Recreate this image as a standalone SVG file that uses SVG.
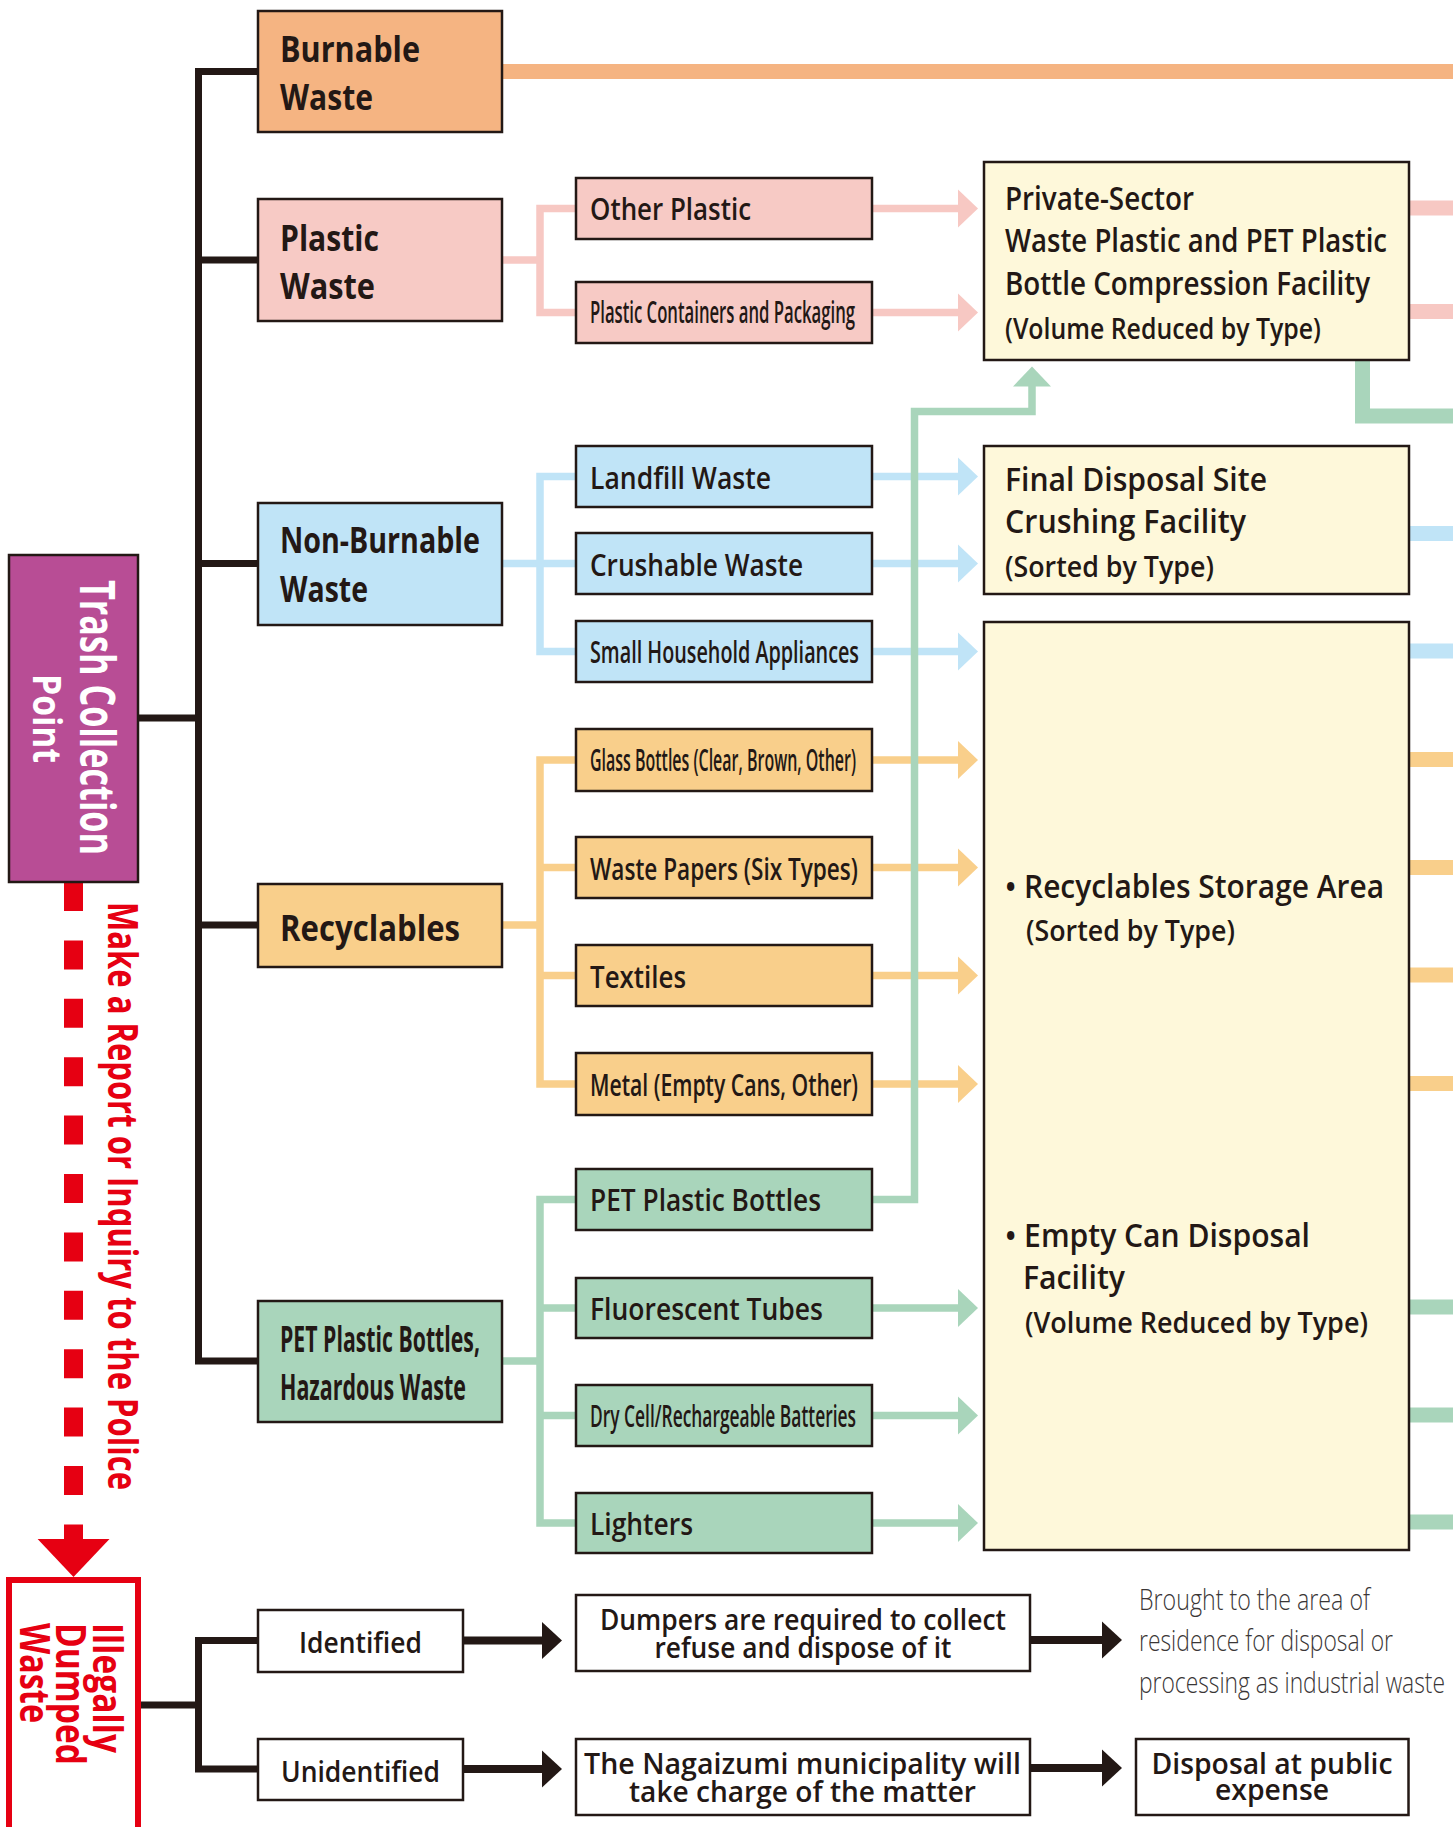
<svg xmlns="http://www.w3.org/2000/svg" xmlns:xlink="http://www.w3.org/1999/xlink" width="1453" height="1827" viewBox="0 0 1453 1827">
<style>
text{font-family:"Open Sans","Noto Sans","Liberation Sans",sans-serif;fill:#231815}
.box{stroke:#231815;stroke-width:2.5}
.burn{fill:#F5B482}.pla{fill:#F7CAC5}.blu{fill:#C0E4F7}.ora{fill:#F9CF8B}.grn{fill:#A9D5BB}.cre{fill:#FEF8DA}.wht{fill:#fff}
.cat{font-size:36px;font-weight:700}
.sub{font-size:30px;font-weight:600}
.fac{font-size:32px;font-weight:600}
.facs{font-size:28px;font-weight:600}
.bot{font-size:29px;font-weight:600}
.thin{font-size:30px;font-weight:300;fill:#3a3636}
.lp{fill:none;stroke:#F7C8C3}.lb{fill:none;stroke:#C0E4F7}.lo{fill:none;stroke:#F9CF8B}.lg{fill:none;stroke:#A9D5BB}.lbu{fill:none;stroke:#F5B482}
.th{stroke-width:7.5}.tk{stroke-width:15}
.blk{fill:none;stroke:#231815;stroke-width:7}
.red{fill:#E60012}
</style>
<defs>
<path id="ah" d="M0,-19 L20,0 L0,19 Z"/>
<path id="ahb" d="M0,-18.5 L20,0 L0,18.5 Z"/>
</defs>

<g id="connectors">
  <path class="blk" d="M258 71.5 H198.5 V1361 H258"/>
  <path class="blk" d="M198.5 260 H258 M198.5 563.5 H258 M198.5 925 H258 M138 718 H198.5"/>
  <path class="lbu tk" d="M502 71.5 H1453"/>
  <path class="lp th" d="M576 208.5 H540 V312.5 H576 M502 260 H540"/>
  <path class="lp th" d="M872 208.5 H960 M872 312.5 H960"/>
  <g fill="#F7C8C3"><use xlink:href="#ah" x="958" y="208.5"/><use xlink:href="#ah" x="958" y="312.5"/></g>
  <path class="lp tk" d="M1409 208 H1453 M1409 311.5 H1453"/>
  <path class="lb th" d="M576 476.5 H540 V651.5 H576 M502 563.5 H576"/>
  <path class="lb th" d="M872 476.5 H960 M872 563.5 H960 M872 651.5 H960"/>
  <g fill="#C0E4F7"><use xlink:href="#ah" x="958" y="476.5"/><use xlink:href="#ah" x="958" y="563.5"/><use xlink:href="#ah" x="958" y="651.5"/></g>
  <path class="lb tk" d="M1409 533.5 H1453 M1409 651 H1453"/>
  <path class="lo th" d="M576 760 H540 V1084 H576 M502 925 H540 M540 867.5 H576 M540 975.5 H576"/>
  <path class="lo th" d="M872 760 H960 M872 867.5 H960 M872 975.5 H960 M872 1084 H960"/>
  <g fill="#F9CF8B"><use xlink:href="#ah" x="958" y="760"/><use xlink:href="#ah" x="958" y="867.5"/><use xlink:href="#ah" x="958" y="975.5"/><use xlink:href="#ah" x="958" y="1084"/></g>
  <path class="lo tk" d="M1409 759.5 H1453 M1409 867.5 H1453 M1409 975 H1453 M1409 1083.5 H1453"/>
  <path class="lg th" d="M576 1199.5 H540 V1523 H576 M502 1361 H540 M540 1308 H576 M540 1415.5 H576"/>
  <path class="lg th" d="M872 1308 H960 M872 1415.5 H960 M872 1523 H960"/>
  <g fill="#A9D5BB"><use xlink:href="#ah" x="958" y="1308"/><use xlink:href="#ah" x="958" y="1415.5"/><use xlink:href="#ah" x="958" y="1523"/></g>
  <path class="lg th" d="M872 1199.5 H914.5 V411.5 H1032 V384"/>
  <path fill="#A9D5BB" d="M1013 386.5 L1032 366.5 L1051 386.5 Z"/>
  <path class="lg tk" d="M1362.5 360 V416 H1453 M1409 1307 H1453 M1409 1415 H1453 M1409 1522 H1453"/>
  <path d="M73.5 882 V1539" stroke="#E60012" stroke-width="19" stroke-dasharray="29 29.4" fill="none"/>
  <path class="red" d="M37.6 1539 L109.5 1539 L73.5 1577 Z"/>
  <path class="blk" d="M258 1640.5 H198.5 V1769 H258 M141 1705 H198.5"/>
  <path fill="none" stroke="#231815" stroke-width="8" d="M463 1640.5 H544 M463 1769 H544 M1030 1640 H1104 M1030 1768 H1104"/>
  <g fill="#231815"><use xlink:href="#ahb" x="542" y="1640.5"/><use xlink:href="#ahb" x="542" y="1769"/><use xlink:href="#ahb" x="1102" y="1640"/><use xlink:href="#ahb" x="1102" y="1768"/></g>
</g>

<g id="trash-collection-point">
  <rect x="9" y="555" width="129" height="327" fill="#B84D95" class="box"/>
  <text transform="translate(80,717.5) rotate(90)" text-anchor="middle" font-size="48" font-weight="700" style="fill:#fff" textLength="275" lengthAdjust="spacingAndGlyphs">Trash Collection</text>
  <text transform="translate(33,718.5) rotate(90)" text-anchor="middle" font-size="40" font-weight="700" style="fill:#fff" textLength="89" lengthAdjust="spacingAndGlyphs">Point</text>
</g>

<g id="report-label">
  <text transform="translate(108,902) rotate(90)" font-size="42" font-weight="700" style="fill:#E60012" textLength="588" lengthAdjust="spacingAndGlyphs">Make a Report or Inquiry to the Police</text>
</g>

<g id="burnable-waste">
  <rect x="258" y="11" width="244" height="121" class="box burn"/>
  <text class="cat" x="280" y="62" textLength="140" lengthAdjust="spacingAndGlyphs">Burnable</text>
  <text class="cat" x="280" y="110" textLength="93" lengthAdjust="spacingAndGlyphs">Waste</text>
</g>
<g id="plastic-waste">
  <rect x="258" y="199" width="244" height="122" class="box pla"/>
  <text class="cat" x="280" y="251" textLength="99" lengthAdjust="spacingAndGlyphs">Plastic</text>
  <text class="cat" x="280" y="299" textLength="95" lengthAdjust="spacingAndGlyphs">Waste</text>
</g>
<g id="non-burnable-waste">
  <rect x="258" y="503" width="244" height="122" class="box blu"/>
  <text class="cat" x="280" y="553" textLength="200" lengthAdjust="spacingAndGlyphs">Non-Burnable</text>
  <text class="cat" x="280" y="602" textLength="88" lengthAdjust="spacingAndGlyphs">Waste</text>
</g>
<g id="recyclables">
  <rect x="258" y="884" width="244" height="83" class="box ora"/>
  <text class="cat" x="280" y="941" textLength="180" lengthAdjust="spacingAndGlyphs">Recyclables</text>
</g>
<g id="pet-hazardous">
  <rect x="258" y="1301" width="244" height="121" class="box grn"/>
  <text class="cat" x="280" y="1352" textLength="200" lengthAdjust="spacingAndGlyphs">PET Plastic Bottles,</text>
  <text class="cat" x="280" y="1400" textLength="186" lengthAdjust="spacingAndGlyphs">Hazardous Waste</text>
</g>

<g id="other-plastic"><rect x="576" y="178" width="296" height="61" class="box pla"/><text class="sub" x="590" y="220" textLength="161" lengthAdjust="spacingAndGlyphs">Other Plastic</text></g>
<g id="plastic-containers"><rect x="576" y="282" width="296" height="61" class="box pla"/><text class="sub" x="590" y="323" font-size="28" textLength="265" lengthAdjust="spacingAndGlyphs">Plastic Containers and Packaging</text></g>
<g id="landfill-waste"><rect x="576" y="446" width="296" height="61" class="box blu"/><text class="sub" x="590" y="489" textLength="181" lengthAdjust="spacingAndGlyphs">Landfill Waste</text></g>
<g id="crushable-waste"><rect x="576" y="533" width="296" height="61" class="box blu"/><text class="sub" x="590" y="576" textLength="213" lengthAdjust="spacingAndGlyphs">Crushable Waste</text></g>
<g id="small-appliances"><rect x="576" y="621" width="296" height="61" class="box blu"/><text class="sub" x="590" y="663" textLength="269" lengthAdjust="spacingAndGlyphs">Small Household Appliances</text></g>
<g id="glass-bottles"><rect x="576" y="729" width="296" height="62" class="box ora"/><text class="sub" x="590" y="771" font-size="29" textLength="266" lengthAdjust="spacingAndGlyphs">Glass Bottles (Clear, Brown, Other)</text></g>
<g id="waste-papers"><rect x="576" y="837" width="296" height="61" class="box ora"/><text class="sub" x="590" y="880" textLength="268" lengthAdjust="spacingAndGlyphs">Waste Papers (Six Types)</text></g>
<g id="textiles"><rect x="576" y="945" width="296" height="61" class="box ora"/><text class="sub" x="590" y="988" textLength="96" lengthAdjust="spacingAndGlyphs">Textiles</text></g>
<g id="metal"><rect x="576" y="1053" width="296" height="62" class="box ora"/><text class="sub" x="590" y="1096" textLength="268" lengthAdjust="spacingAndGlyphs">Metal (Empty Cans, Other)</text></g>
<g id="pet-bottles"><rect x="576" y="1169" width="296" height="61" class="box grn"/><text class="sub" x="590" y="1211" textLength="231" lengthAdjust="spacingAndGlyphs">PET Plastic Bottles</text></g>
<g id="fluorescent-tubes"><rect x="576" y="1278" width="296" height="60" class="box grn"/><text class="sub" x="590" y="1320" textLength="233" lengthAdjust="spacingAndGlyphs">Fluorescent Tubes</text></g>
<g id="batteries"><rect x="576" y="1385" width="296" height="61" class="box grn"/><text class="sub" x="590" y="1427" font-size="29" textLength="266" lengthAdjust="spacingAndGlyphs">Dry Cell/Rechargeable Batteries</text></g>
<g id="lighters"><rect x="576" y="1493" width="296" height="60" class="box grn"/><text class="sub" x="590" y="1535" textLength="103" lengthAdjust="spacingAndGlyphs">Lighters</text></g>

<g id="private-sector-facility">
  <rect x="984" y="162" width="425" height="198" class="box cre"/>
  <text class="fac" x="1005" y="210" textLength="189" lengthAdjust="spacingAndGlyphs">Private-Sector</text>
  <text class="fac" x="1005" y="252" textLength="382" lengthAdjust="spacingAndGlyphs">Waste Plastic and PET Plastic</text>
  <text class="fac" x="1005" y="295" textLength="365" lengthAdjust="spacingAndGlyphs">Bottle Compression Facility</text>
  <text class="facs" x="1005" y="339" textLength="316" lengthAdjust="spacingAndGlyphs">(Volume Reduced by Type)</text>
</g>
<g id="final-disposal-site">
  <rect x="984" y="446" width="425" height="148" class="box cre"/>
  <text class="fac" x="1005" y="491" textLength="262" lengthAdjust="spacingAndGlyphs">Final Disposal Site</text>
  <text class="fac" x="1005" y="533" textLength="241" lengthAdjust="spacingAndGlyphs">Crushing Facility</text>
  <text class="facs" x="1005" y="577" textLength="209" lengthAdjust="spacingAndGlyphs">(Sorted by Type)</text>
</g>
<g id="recyclables-storage">
  <rect x="984" y="622" width="425" height="928" class="box cre"/>
  <text class="fac" x="1005" y="898" textLength="379" lengthAdjust="spacingAndGlyphs">• Recyclables Storage Area</text>
  <text class="facs" x="1026" y="941" textLength="209" lengthAdjust="spacingAndGlyphs">(Sorted by Type)</text>
  <text class="fac" x="1005" y="1247" textLength="305" lengthAdjust="spacingAndGlyphs">• Empty Can Disposal</text>
  <text class="fac" x="1023" y="1289" textLength="102" lengthAdjust="spacingAndGlyphs">Facility</text>
  <text class="facs" x="1025" y="1333" textLength="343" lengthAdjust="spacingAndGlyphs">(Volume Reduced by Type)</text>
</g>

<g id="illegally-dumped-waste">
  <rect x="9" y="1580" width="129" height="270" fill="#fff" stroke="#E60012" stroke-width="6"/>
  <text transform="translate(93,1623) rotate(90)" font-size="42" font-weight="700" style="fill:#E60012" textLength="130" lengthAdjust="spacingAndGlyphs">Illegally</text>
  <text transform="translate(56,1623) rotate(90)" font-size="42" font-weight="700" style="fill:#E60012" textLength="142" lengthAdjust="spacingAndGlyphs">Dumped</text>
  <text transform="translate(20,1623) rotate(90)" font-size="42" font-weight="700" style="fill:#E60012" textLength="100" lengthAdjust="spacingAndGlyphs">Waste</text>
</g>
<g id="identified"><rect x="258" y="1610" width="205" height="62" class="box wht" stroke-width="2"/><text class="bot" x="360.5" y="1653" text-anchor="middle" font-size="30" textLength="123" lengthAdjust="spacingAndGlyphs">Identified</text></g>
<g id="unidentified"><rect x="258" y="1739" width="205" height="61" class="box wht" stroke-width="2"/><text class="bot" x="360.5" y="1782" text-anchor="middle" font-size="30" textLength="159" lengthAdjust="spacingAndGlyphs">Unidentified</text></g>
<g id="dumpers-collect">
  <rect x="576" y="1595" width="454" height="76" class="box wht"/>
  <text class="bot" x="803" y="1630" text-anchor="middle" font-size="28" textLength="406" lengthAdjust="spacingAndGlyphs">Dumpers are required to collect</text>
  <text class="bot" x="803" y="1658" text-anchor="middle" font-size="28" textLength="297" lengthAdjust="spacingAndGlyphs">refuse and dispose of it</text>
</g>
<g id="municipality-charge">
  <rect x="576" y="1739" width="454" height="76" class="box wht"/>
  <text class="bot" x="802.5" y="1774" text-anchor="middle" textLength="437" lengthAdjust="spacingAndGlyphs">The Nagaizumi municipality will</text>
  <text class="bot" x="802.5" y="1802" text-anchor="middle" textLength="347" lengthAdjust="spacingAndGlyphs">take charge of the matter</text>
</g>
<g id="brought-residence">
  <text class="thin" x="1139" y="1610" textLength="231" lengthAdjust="spacingAndGlyphs">Brought to the area of</text>
  <text class="thin" x="1139" y="1651" textLength="254" lengthAdjust="spacingAndGlyphs">residence for disposal or</text>
  <text class="thin" x="1139" y="1693" textLength="306" lengthAdjust="spacingAndGlyphs">processing as industrial waste</text>
</g>
<g id="public-expense">
  <rect x="1136" y="1739" width="272.5" height="76" class="box wht"/>
  <text class="bot" x="1272" y="1774" text-anchor="middle" textLength="241" lengthAdjust="spacingAndGlyphs">Disposal at public</text>
  <text class="bot" x="1272" y="1800" text-anchor="middle" textLength="114" lengthAdjust="spacingAndGlyphs">expense</text>
</g>
</svg>
